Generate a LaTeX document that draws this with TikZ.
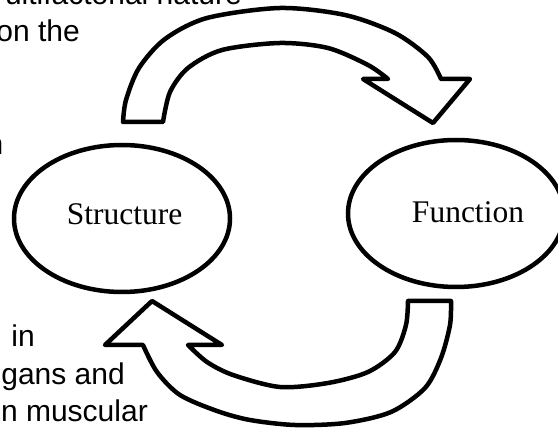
\documentclass[tikz,border=0pt]{standalone}
\usepackage{fontspec}
\setmainfont{Liberation Serif}
\newfontfamily\arialfont{Liberation Sans}
\usetikzlibrary{shapes.geometric}
\begin{document}
\begin{tikzpicture}[x=1pt,y=-1pt,
  blockarrow/.style={draw=black, fill=white, line width=4.5pt, line join=round},
  bubble/.style={draw=black, fill=white, ellipse, line width=4.5pt, minimum width=216pt, minimum height=147pt, inner sep=0pt, outer sep=0pt},
  word/.style={font=\fontsize{31.5}{36}\selectfont, inner sep=0pt, text=black},
  note/.style={font=\arialfont\fontsize{30}{37.5}\selectfont, inner sep=0pt, text=black}]
\useasboundingbox (0,0) rectangle (558,430);
\clip (0,0) rectangle (558,430);
\fill[white] (0,0) rectangle (558,430);

% cut-off text fragments
\node[note, anchor=base east] (t1) at (242,5) {ultifactorial nature};
\node[note, anchor=base east] (t2) at (80,42) {on the};
\node[note, anchor=base east] (t3) at (3.5,155) {n};
\node[note, anchor=base east] (b1) at (35,347) {in};
\node[note, anchor=base east] (b2) at (125,384.5) {gans and};
\node[note, anchor=base east] (b3) at (148,422) {n muscular};

% ellipses
\node[bubble] (structure) at (122,218.5) {};
\node[bubble] (function) at (456,213.5) {};
\node[word, anchor=base] (structurelabel) at (124.5,225) {Structure};
\node[word, anchor=base] (functionlabel) at (468,223) {Function};

% top curved arrow
\draw[blockarrow] plot[smooth] coordinates {(123,122) (126,100) (139,68) (165,39) (207,18) (280,8) (345,15) (395,33) (428,57) (441,79)}
  -- (470,79) -- (433,123) -- (363,79)
  -- plot[smooth] coordinates {(388,79) (368,65) (328,48) (280,43) (222,50) (188,68) (170,92) (163,122)}
  -- cycle;

% bottom curved arrow
\draw[blockarrow] plot[smooth] coordinates {(451,301) (450,325) (441,358) (425,388) (391,412) (345,423) (295,425) (250,420) (217,411) (180,395) (157,372) (143,345)}
  -- (105,345) -- (152,301) -- (222,345)
  -- plot[smooth] coordinates {(188,345) (207,362) (233,375) (280,387) (328,383) (368,372) (395,352) (406,325) (408,301)}
  -- cycle;
\end{tikzpicture}
\end{document}
